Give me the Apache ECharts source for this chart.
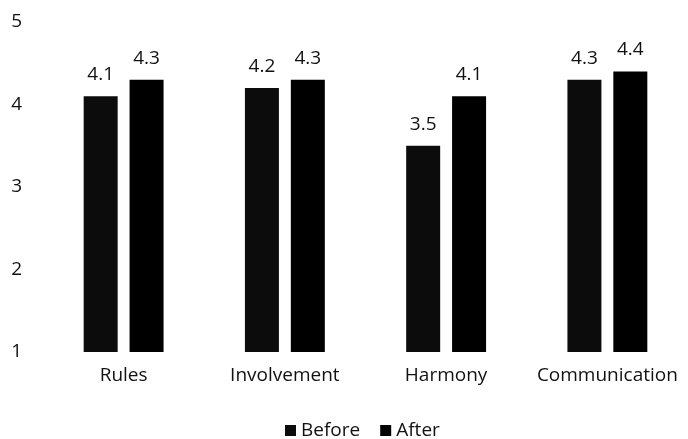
<!DOCTYPE html>
<html>
<head>
<meta charset="utf-8">
<script src="https://cdn.jsdelivr.net/npm/echarts@6/dist/echarts.min.js"></script>
<style>
  html, body { margin: 0; padding: 0; background: #fff; }
  #chart { width: 688px; height: 439px; }
</style>
</head>
<body>
<div id="chart"></div>
<script>
// Survey scores per dimension, before and after
const categories = ['Rules', 'Involvement', 'Harmony', 'Communication'];
const beforeValues = [4.1, 4.2, 3.5, 4.3];
const afterValues = [4.3, 4.3, 4.1, 4.4];
const seriesNames = ['Before', 'After'];
const yTicks = { min: 1, max: 5, interval: 1 };

const FONT = '"Open Sans", "DejaVu Sans", sans-serif';
const TEXT = '#111';
const FS = 19;

const chart = echarts.init(document.getElementById('chart'), null, { renderer: 'canvas' });

const valueLabel = {
  show: true,
  position: 'top',
  distance: 12,
  color: TEXT,
  fontFamily: FONT,
  fontSize: FS
};

chart.setOption({
  animation: false,
  backgroundColor: '#fff',
  grid: { left: 43, top: 22, width: 648, height: 330 },
  legend: {
    data: seriesNames,
    top: 416,
    left: 280,
    itemWidth: 11,
    itemHeight: 11,
    itemGap: 20,
    icon: 'rect',
    textStyle: { color: TEXT, fontFamily: FONT, fontSize: FS }
  },
  xAxis: {
    type: 'category',
    data: categories,
    axisLine: { show: false },
    axisTick: { show: false },
    axisLabel: { interval: 0, color: TEXT, fontFamily: FONT, fontSize: FS, margin: 14 }
  },
  yAxis: {
    type: 'value',
    min: yTicks.min,
    max: yTicks.max,
    interval: yTicks.interval,
    splitLine: { show: false },
    axisLine: { show: false },
    axisTick: { show: false },
    axisLabel: { color: TEXT, fontFamily: FONT, fontSize: FS, margin: 21 }
  },
  series: [
    {
      name: seriesNames[0],
      type: 'bar',
      data: beforeValues,
      barWidth: 34,
      barGap: '35%',
      itemStyle: { color: '#0c0c0c' },
      label: valueLabel
    },
    {
      name: seriesNames[1],
      type: 'bar',
      data: afterValues,
      barWidth: 34,
      itemStyle: { color: '#000' },
      label: valueLabel
    }
  ]
});
</script>
</body>
</html>
